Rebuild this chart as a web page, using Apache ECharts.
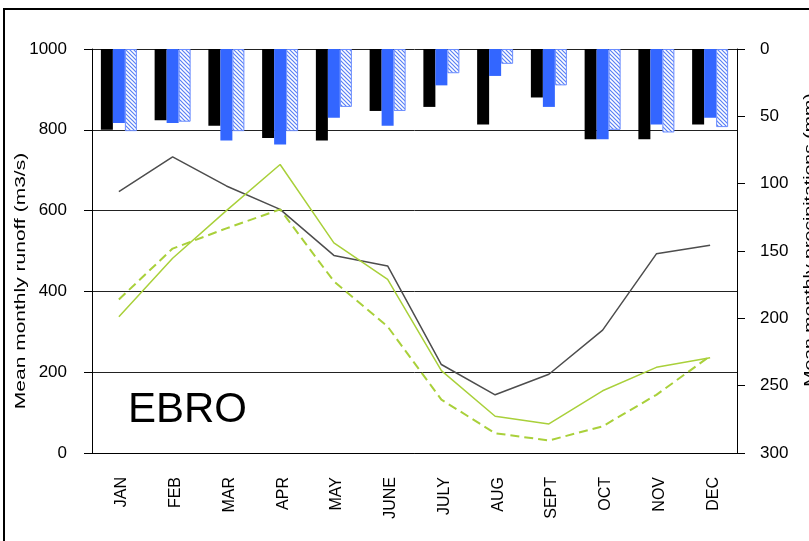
<!DOCTYPE html>
<html>
<head>
<meta charset="utf-8">
<title>EBRO</title>
<script src="https://cdn.jsdelivr.net/npm/echarts@6.0.0/dist/echarts.min.js"></script>
<style>
  html, body { margin: 0; padding: 0; background: #fff; }
  #chart { width: 809px; height: 541px; }
</style>
</head>
<body>
<div id="chart"></div>
<script>
// 月份
const months = ['JAN', 'FEB', 'MAR', 'APR', 'MAY', 'JUNE', 'JULY', 'AUG', 'SEPT', 'OCT', 'NOV', 'DEC']

// 径流 (m3/s)，左轴
const runoffGray = [647, 733, 661, 603, 489, 463, 219, 144, 195, 304, 493, 514]
const runoffGreen = [337, 482, 600, 714, 520, 430, 204, 91, 72, 154, 212, 236]
const runoffGreenDash = [380, 506, 556, 603, 425, 313, 132, 49, 31, 66, 144, 240]

// 降水 (mm)，右轴倒置
const precipBlack = [60, 53, 57, 66, 68, 46, 43, 56, 36, 67, 67, 56]
const precipBlue = [55, 55, 68, 71, 51, 57, 27, 20, 43, 67, 56, 51]
const precipHatch = [61, 54, 61, 61, 43, 46, 18, 11, 27, 60, 62, 58]

const FONT = '"Liberation Sans", Arial, sans-serif'

// 斜线填充
function hatchPattern() {
  const c = document.createElement('canvas')
  c.width = 4
  c.height = 4
  const ctx = c.getContext('2d')
  ctx.fillStyle = '#ffffff'
  ctx.fillRect(0, 0, 4, 4)
  ctx.strokeStyle = '#5a80f4'
  ctx.lineWidth = 1.2
  ctx.beginPath()
  ctx.moveTo(-1, -1); ctx.lineTo(5, 5)
  ctx.moveTo(-1, 3); ctx.lineTo(1, 5)
  ctx.moveTo(3, -1); ctx.lineTo(5, 1)
  ctx.stroke()
  return c
}

const chart = echarts.init(document.getElementById('chart'))

const labelStyle = { color: '#000', fontFamily: FONT, fontSize: 17 }

const option = {
  animation: false,
  backgroundColor: '#fff',
  grid: { left: 92, right: 72, top: 49, bottom: 88 },
  xAxis: {
    type: 'category',
    data: months,
    axisLine: { lineStyle: { color: '#000', width: 1 } },
    axisTick: { length: 5, lineStyle: { color: '#000' } },
    axisLabel: {
      rotate: 90,
      interval: 0,
      margin: 24,
      verticalAlign: 'top',
      lineHeight: 6,
      color: '#000',
      fontFamily: FONT,
      fontSize: 16
    }
  },
  yAxis: [
    {
      type: 'value',
      position: 'left',
      min: 0,
      max: 1000,
      interval: 200,
      axisLine: { show: true, lineStyle: { color: '#000' } },
      axisTick: { show: true, length: 8, lineStyle: { color: '#000' } },
      axisLabel: { ...labelStyle, margin: 25, formatter: (v) => String(v) },
      splitLine: { show: true, lineStyle: { color: '#222', width: 1 } }
    },
    {
      type: 'value',
      position: 'right',
      inverse: true,
      min: 0,
      max: 300,
      interval: 50,
      axisLine: { show: true, lineStyle: { color: '#000' } },
      axisTick: { show: true, length: 8, lineStyle: { color: '#000' } },
      axisLabel: { ...labelStyle, margin: 23 },
      splitLine: { show: false }
    }
  ],
  series: [
    {
      type: 'bar',
      yAxisIndex: 1,
      data: precipBlack,
      barWidth: 12,
      barGap: '0%',
      itemStyle: { color: '#000' }
    },
    {
      type: 'bar',
      yAxisIndex: 1,
      data: precipBlue,
      barWidth: 12,
      barGap: '0%',
      itemStyle: { color: '#3366ff' }
    },
    {
      type: 'bar',
      yAxisIndex: 1,
      data: precipHatch,
      barWidth: 12,
      barGap: '0%',
      itemStyle: { color: { image: hatchPattern(), repeat: 'repeat' }, borderColor: '#6a8cff', borderWidth: 1 }
    },
    {
      type: 'line',
      yAxisIndex: 0,
      data: runoffGray,
      symbol: 'none',
      z: 5,
      lineStyle: { color: '#4d4d4d', width: 1.5 }
    },
    {
      type: 'line',
      yAxisIndex: 0,
      data: runoffGreen,
      symbol: 'none',
      z: 5,
      lineStyle: { color: '#a9d03a', width: 1.5 }
    },
    {
      type: 'line',
      yAxisIndex: 0,
      data: runoffGreenDash,
      symbol: 'none',
      z: 5,
      lineStyle: { color: '#a9d03a', width: 2, type: [9, 5] }
    }
  ],
  graphic: [
    {
      type: 'rect',
      silent: true,
      shape: { x: 4, y: 9, width: 900, height: 700 },
      style: { fill: 'none', stroke: '#000', lineWidth: 2 }
    },
    {
      type: 'text',
      x: 128,
      y: 410,
      style: { text: 'EBRO', fontFamily: FONT, fontSize: 42, fill: '#000', align: 'left', verticalAlign: 'middle' }
    },
    {
      type: 'text',
      x: 21,
      y: 281,
      rotation: Math.PI / 2,
      scaleX: 1.4,
      style: { text: 'Mean monthly runoff (m3/s)', fontFamily: FONT, fontSize: 15, fill: '#000', align: 'center', verticalAlign: 'middle' }
    },
    {
      type: 'text',
      x: 810,
      y: 240,
      rotation: Math.PI / 2,
      scaleX: 1.3,
      style: { text: 'Mean monthly precipitations (mm)', fontFamily: FONT, fontSize: 15, fill: '#000', align: 'center', verticalAlign: 'middle' }
    }
  ]
}

chart.setOption(option)
</script>
</body>
</html>
